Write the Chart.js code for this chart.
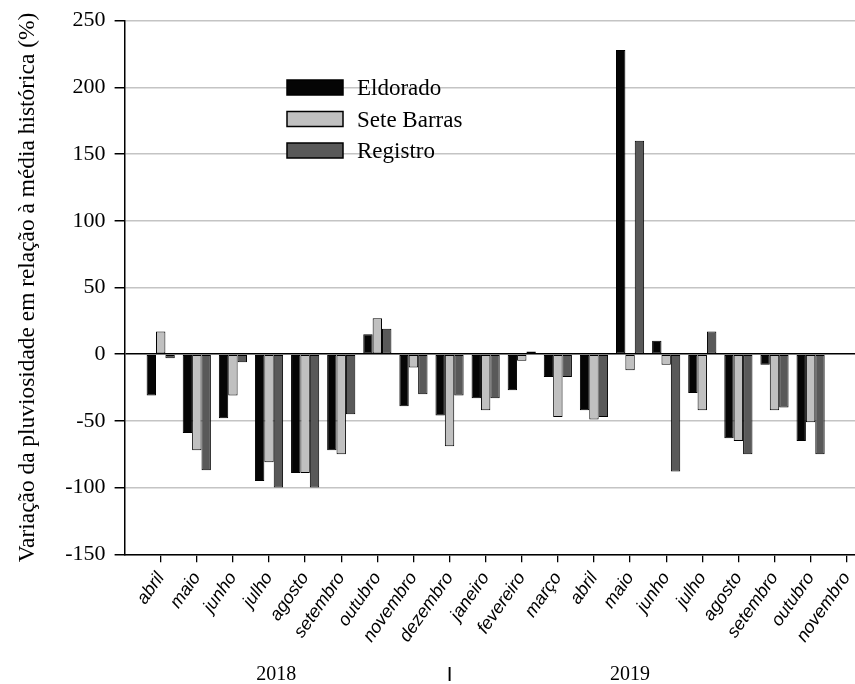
<!DOCTYPE html>
<html>
<head>
<meta charset="utf-8">
<script src="https://cdn.jsdelivr.net/npm/chart.js@4.4.1/dist/chart.umd.min.js"></script>
<style>
    html, body { margin: 0; padding: 0; background: #fff; overflow: hidden; }
    #wrap { width: 855px; height: 684px; }
</style>
</head>
<body>
<div id="wrap"><canvas id="rainChart" width="855" height="684"></canvas></div>
<script>
// Months (abril 2018 .. novembro 2019)
const months = ['abril', 'maio', 'junho', 'julho', 'agosto', 'setembro', 'outubro', 'novembro', 'dezembro',
    'janeiro', 'fevereiro', 'março', 'abril', 'maio', 'junho', 'julho', 'agosto', 'setembro', 'outubro', 'novembro'];

// Variation vs historical mean (%)
const eldorado   = [-31, -59, -48, -95, -89, -72, 15, -39, -46, -33, -27, -17, -42, 228, 10, -29, -63, -8, -65, null];
const seteBarras = [17, -72, -31, -81, -89, -75, 27, -10, -69, -42, -5, -47, -49, -12, -8, -42, -65, -42, -51, null];
const registro   = [-3, -87, -6, -100, -100, -45, 19, -30, -31, -33, 2, -17, -47, 160, -88, 17, -75, -40, -75, null];

const yTicks = [-150, -100, -50, 0, 50, 100, 150, 200, 250];
const years = ['2018', '|', '2019'];
const yearAt = [3.2, 8, 13];

const serif = "'Liberation Serif', 'Times New Roman', serif";

function series(values) {
    return values.map((v, i) => ({ x: i, y: v }));
}

// Legend drawn in the plot, plus year captions under the month labels
const extras = {
    id: 'extras',
    afterDraw(chart) {
        const ctx = chart.ctx;
        ctx.save();
        chart.data.datasets.forEach((ds, i) => {
            const y = 80 + i * 31.5;
            ctx.fillStyle = ds.backgroundColor;
            ctx.fillRect(287, y, 56, 15);
            ctx.lineWidth = 1.5;
            ctx.strokeStyle = '#000';
            ctx.strokeRect(287, y, 56, 15);
            ctx.fillStyle = '#000';
            ctx.font = '23px ' + serif;
            ctx.textAlign = 'left';
            ctx.textBaseline = 'alphabetic';
            ctx.fillText(ds.label, 357, y + 15);
        });
        const xs = chart.scales.x;
        ctx.textAlign = 'center';
        years.forEach((t, i) => {
            ctx.font = t === '|' ? "bold 15px 'Liberation Sans', sans-serif" : '20px ' + serif;
            ctx.fillText(t, xs.getPixelForValue(yearAt[i]), t === '|' ? 678 : 680);
        });
        ctx.restore();
    }
};

new Chart(document.getElementById('rainChart'), {
    type: 'bar',
    data: {
        datasets: [
            { label: 'Eldorado', data: series(eldorado), backgroundColor: '#050505' },
            { label: 'Sete Barras', data: series(seteBarras), backgroundColor: '#c0c0c0' },
            { label: 'Registro', data: series(registro), backgroundColor: '#595959' }
        ]
    },
    options: {
        responsive: false,
        animation: false,
        layout: { padding: { top: 20.7, right: 0, bottom: 0, left: 0 } },
        datasets: {
            bar: {
                borderColor: '#000',
                borderWidth: 1,
                borderSkipped: false,
                categoryPercentage: 0.78,
                barPercentage: 1.0
            }
        },
        plugins: {
            legend: { display: false },
            tooltip: { enabled: false }
        },
        scales: {
            x: {
                type: 'linear',
                offset: false,
                min: -1,
                max: 19.23,
                afterBuildTicks: s => { s.ticks = months.map((m, i) => ({ value: i })); },
                afterFit: s => { s.height = 129.7; s.paddingLeft = 0; s.paddingRight = 0; },
                grid: { offset: false, drawOnChartArea: false, drawTicks: true, tickLength: 8, tickColor: '#000', lineWidth: 1.3 },
                border: { color: '#000', width: 1.5 },
                ticks: {
                    autoSkip: false,
                    maxRotation: 55,
                    minRotation: 55,
                    padding: 6,
                    color: '#000',
                    font: { family: "'Liberation Sans', Arial, sans-serif", size: 18, style: 'italic' },
                    callback: v => months[v] ?? ''
                }
            },
            y: {
                min: -150,
                max: 250,
                afterBuildTicks: s => { s.ticks = yTicks.map(v => ({ value: v })); },
                afterFit: s => { s.width = 124.6; s.paddingTop = 0; s.paddingBottom = 0; },
                grid: {
                    color: c => c.tick && c.tick.value === 0 ? '#000' : '#c4c4c4',
                    lineWidth: 1.5,
                    tickLength: 10,
                    tickColor: '#000'
                },
                border: { color: '#000', width: 1.5 },
                ticks: {
                    padding: 9,
                    color: '#000',
                    font: { family: serif, size: 22 }
                },
                title: {
                    display: true,
                    text: 'Variação da pluviosidade em relação à média histórica (%)',
                    color: '#000',
                    font: { family: serif, size: 23.4, lineHeight: 1.2 },
                    padding: { top: 14, bottom: 0 }
                }
            }
        }
    },
    plugins: [extras]
});
</script>
</body>
</html>
